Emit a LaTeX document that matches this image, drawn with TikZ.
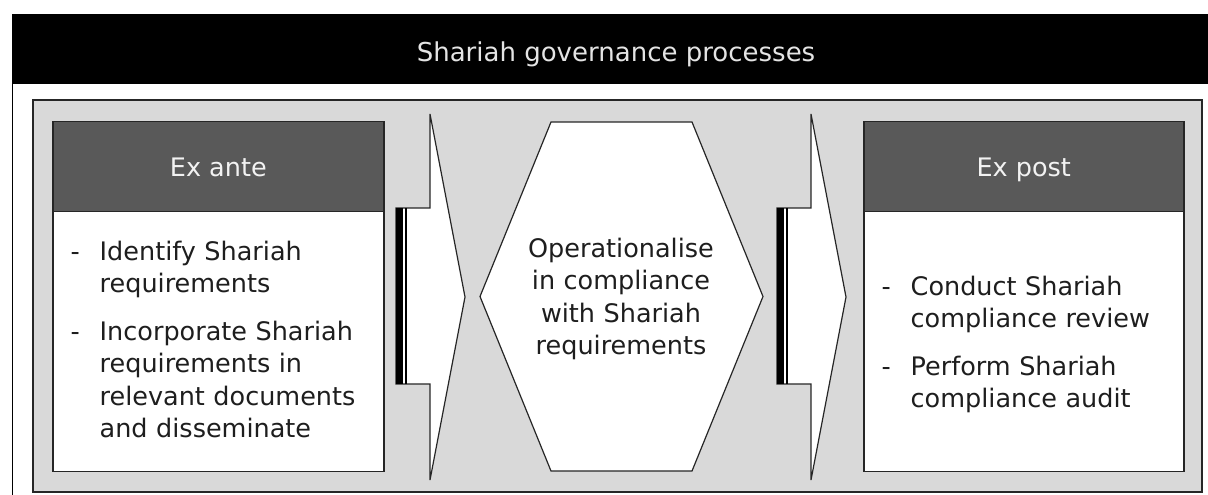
\documentclass[tikz,border=0pt]{standalone}
\usepackage{fontspec}
\setmainfont{DejaVu Sans}
\usepackage{tikz}
\usetikzlibrary{calc,positioning}
\definecolor{panelGray}{RGB}{217,217,217}
\definecolor{headGray}{RGB}{89,89,89}
\definecolor{lineDark}{RGB}{38,38,38}
\definecolor{headText}{RGB}{242,242,242}
\definecolor{bodyText}{RGB}{30,30,30}
\definecolor{titleText}{RGB}{228,228,228}
\newcommand{\bodyfont}{\fontsize{25.5}{32.5}\selectfont}
\newcommand{\titlefont}{\fontsize{26}{30}\selectfont}
\tikzstyle{boxhead}=[rectangle, draw=lineDark, fill=headGray,
                    line width=1.6pt, anchor=north west, inner sep=0pt,
                    text=headText, text height=20pt, text depth=0pt,
                    font=\bodyfont]
\tikzstyle{boxbody}=[rectangle, draw=lineDark, fill=white,
                    line width=1.6pt, anchor=north west, inner sep=0pt]
\tikzstyle{listitem}=[anchor=base west, inner sep=0pt, text width=280pt,
                    align=left, text=bodyText, font=\bodyfont]
\tikzstyle{listdash}=[anchor=base west, inner sep=0pt,
                    text=bodyText, font=\bodyfont]
\tikzstyle{blockarrow}=[draw=lineDark, fill=white, line width=1.2pt]

\begin{document}
\begin{tikzpicture}[x=1pt,y=-1pt]
    \useasboundingbox[fill=white] (0,0) rectangle (1208,495);

    % title bar
    \fill[black] (12,14) rectangle (1208,84);
    \draw (616,62) node(title)[anchor=base, inner sep=0pt, text=titleText,
        font=\titlefont]{Shariah governance processes};
    \draw[line width=1.2pt] (12.5,84) -- (12.5,495);

    % grey panel
    \draw[draw=lineDark, fill=panelGray, line width=2pt] (33,100) rectangle (1202,492);

    % ex ante / ex post boxes
    \foreach \n/\x/\w/\t in {ante/52/331/Ex ante, post/863/320/Ex post}{
        \draw (\x,210.5) node(\n Body)[boxbody, minimum width=\w pt,
            minimum height=260pt]{};
        \draw (\x,120.5) node(\n Head)[boxhead, minimum width=\w pt,
            minimum height=90pt]{\t};
    }

    % striped arrows
    \foreach \x in {396,777}{
        \draw[blockarrow] (\x,208) -- (\x+34,208) -- (\x+34,114) -- (\x+69,297)
            -- (\x+34,480) -- (\x+34,384) -- (\x,384) -- cycle;
        \fill[black] (\x,208) rectangle (\x+7,384);
        \draw[line width=1.2pt] (\x+10,208) -- (\x+10,384);
    }

    % middle step
    \draw[blockarrow] (480,296.5) -- (551,122) -- (692,122) -- (763,296.5)
        -- (692,471) -- (551,471) -- cycle;
    \draw (621,257) node(hexText)[anchor=base, inner sep=0pt, text width=280pt,
        align=center, text=bodyText, font=\bodyfont]
        {Operationalise\\in compliance\\with Shariah\\requirements};

    % items
    \foreach \n/\x/\y/\t in {ante1/70.5/260/{Identify Shariah\\requirements},
        ante2/70.5/340/{Incorporate Shariah\\requirements in\\relevant documents\\and disseminate},
        post1/881.5/295/{Conduct Shariah\\compliance review},
        post2/881.5/375/{Perform Shariah\\compliance audit}}{
        \draw (\x,\y) node(\n Dash)[listdash]{-};
        \draw (\x+29,\y) node(\n Item)[listitem]{\t};
    }
\end{tikzpicture}
\end{document}
